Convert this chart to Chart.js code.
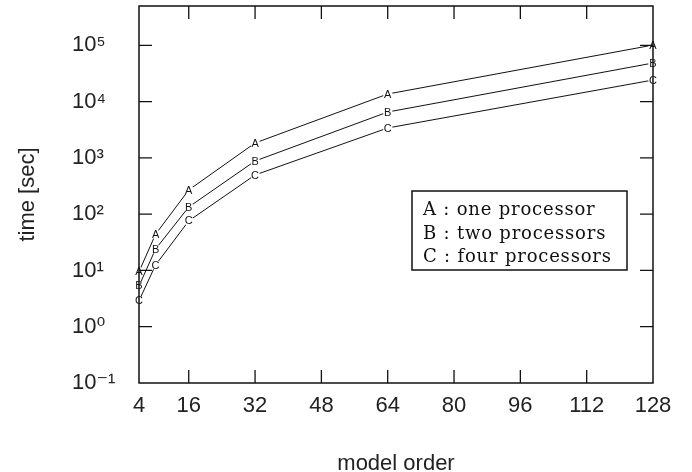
<!DOCTYPE html>
<html>
<head>
<meta charset="utf-8">
<script src="https://cdn.jsdelivr.net/npm/chart.js@4/dist/chart.umd.min.js"></script>
<style>
html,body{margin:0;padding:0;background:#fff;}
#wrap{width:692px;height:472px;}
</style>
</head>
<body>
<div id="wrap"><canvas id="c" width="692" height="472"></canvas></div>
<script>
// ---- data ----
const modelOrder = [4, 8, 16, 32, 64, 128];
const onePro  = [9.5, 44, 269, 1840, 13650, 101000];
const twoPro  = [5.3, 24, 134, 880, 6530, 48500];
const fourPro = [2.9, 12.5, 76, 497, 3400, 24200];
const seriesLetters = ['A', 'B', 'C'];
const legendLines = ['A : one processor', 'B : two processors', 'C : four processors'];
const xTicks = [4, 16, 32, 48, 64, 80, 96, 112, 128];
const yTicks = [0.1, 1, 10, 100, 1000, 10000, 100000];
const supMap = {'-':'\u207B','0':'\u2070','1':'\u00B9','2':'\u00B2','3':'\u00B3','4':'\u2074','5':'\u2075','6':'\u2076','7':'\u2077','8':'\u2078','9':'\u2079'};
function sup(n){ return String(n).split('').map(c => supMap[c]).join(''); }

const mk = (arr) => modelOrder.map((x, i) => ({x: x, y: arr[i]}));

const framePlugin = {
  id: 'frame',
  afterDraw(chart) {
    const {ctx, chartArea: a, scales} = chart;
    ctx.save();
    ctx.strokeStyle = '#111';
    ctx.lineWidth = 1.5;
    ctx.strokeRect(a.left, a.top, a.right - a.left, a.bottom - a.top);
    const L = 13;
    ctx.lineWidth = 1.3;
    ctx.beginPath();
    xTicks.forEach(v => {
      if (v === xTicks[0] || v === xTicks[xTicks.length - 1]) return;
      const px = scales.x.getPixelForValue(v);
      ctx.moveTo(px, a.bottom); ctx.lineTo(px, a.bottom - L);
      ctx.moveTo(px, a.top); ctx.lineTo(px, a.top + L);
    });
    yTicks.forEach(v => {
      if (v === yTicks[0]) return;
      const py = scales.y.getPixelForValue(v);
      ctx.moveTo(a.left, py); ctx.lineTo(a.left + L, py);
      ctx.moveTo(a.right, py); ctx.lineTo(a.right - L, py);
    });
    ctx.stroke();
    ctx.restore();
  },
  afterDatasetsDraw(chart) {
    const ctx = chart.ctx;
    ctx.save();
    ctx.font = '11px "Liberation Sans", Arial, sans-serif';
    ctx.textAlign = 'center';
    ctx.textBaseline = 'middle';
    chart.data.datasets.forEach((ds, di) => {
      const meta = chart.getDatasetMeta(di);
      meta.data.forEach(pt => {
        ctx.fillStyle = '#fff';
        ctx.beginPath();
        ctx.arc(pt.x, pt.y, 4.8, 0, Math.PI * 2);
        ctx.fill();
        ctx.fillStyle = '#111';
        ctx.fillText(seriesLetters[di], pt.x, pt.y + 0.5);
      });
    });
    // legend box
    const bx = 412, by = 191, bw = 215, bh = 79;
    ctx.fillStyle = '#fff';
    ctx.fillRect(bx, by, bw, bh);
    ctx.strokeStyle = '#111';
    ctx.lineWidth = 1.5;
    ctx.strokeRect(bx, by, bw, bh);
    ctx.fillStyle = '#111';
    ctx.font = '18px "DejaVu Serif", serif';
    try { ctx.letterSpacing = '0.8px'; } catch (e) {}
    ctx.textAlign = 'left';
    ctx.textBaseline = 'alphabetic';
    legendLines.forEach((t, i) => {
      ctx.fillText(t, bx + 11, by + 24 + i * 23.5);
    });
    ctx.restore();
  }
};

const lineStyle = {borderColor: '#111', borderWidth: 1, pointRadius: 0, fill: false, tension: 0};
const sansFont = '"Liberation Sans", "DejaVu Sans", Arial, sans-serif';

new Chart(document.getElementById('c'), {
  type: 'line',
  data: {
    datasets: [
      Object.assign({label: legendLines[0], data: mk(onePro)}, lineStyle),
      Object.assign({label: legendLines[1], data: mk(twoPro)}, lineStyle),
      Object.assign({label: legendLines[2], data: mk(fourPro)}, lineStyle)
    ]
  },
  options: {
    responsive: false,
    animation: false,
    devicePixelRatio: 1,
    layout: {padding: {top: 6, right: 39, left: 0, bottom: 0}},
    plugins: {legend: {display: false}, tooltip: {enabled: false}},
    scales: {
      x: {
        type: 'linear',
        min: 4, max: 128,
        afterBuildTicks: s => { s.ticks = xTicks.map(v => ({value: v})); },
        afterFit: s => { s.height = 89; s.paddingLeft = 0; s.paddingRight = 0; },
        grid: {display: false, drawTicks: false},
        border: {display: false},
        ticks: {
          padding: 10, color: '#222', maxRotation: 0, autoSkip: false,
          font: {family: sansFont, size: 22},
          callback: v => String(v)
        },
        title: {
          display: true, text: 'model order', color: '#222',
          font: {family: sansFont, size: 22},
          padding: {top: 0, bottom: -5}
        }
      },
      y: {
        type: 'logarithmic',
        position: 'left',
        weight: 0,
        min: 0.1, max: 500000,
        afterBuildTicks: s => { s.ticks = yTicks.map(v => ({value: v})); },
        afterFit: s => { s.width = 67; s.paddingTop = 0; s.paddingBottom = 0; },
        grid: {display: false, drawTicks: false},
        border: {display: false},
        ticks: {
          padding: 9, color: '#222', crossAlign: 'far', autoSkip: false,
          font: {family: sansFont, size: 22},
          callback: v => '10' + sup(Math.round(Math.log10(v)))
        }
      },
      yTitle: {
        type: 'linear',
        position: 'left',
        weight: 1,
        min: 0, max: 1,
        afterFit: s => { s.width = 72; s.paddingTop = 0; s.paddingBottom = 0; },
        grid: {display: false, drawTicks: false},
        border: {display: false},
        ticks: {display: false},
        title: {
          display: true, text: 'time [sec]', color: '#222',
          font: {family: sansFont, size: 22},
          padding: {top: 15, bottom: 0}
        }
      }
    }
  },
  plugins: [framePlugin]
});
</script>
</body>
</html>
